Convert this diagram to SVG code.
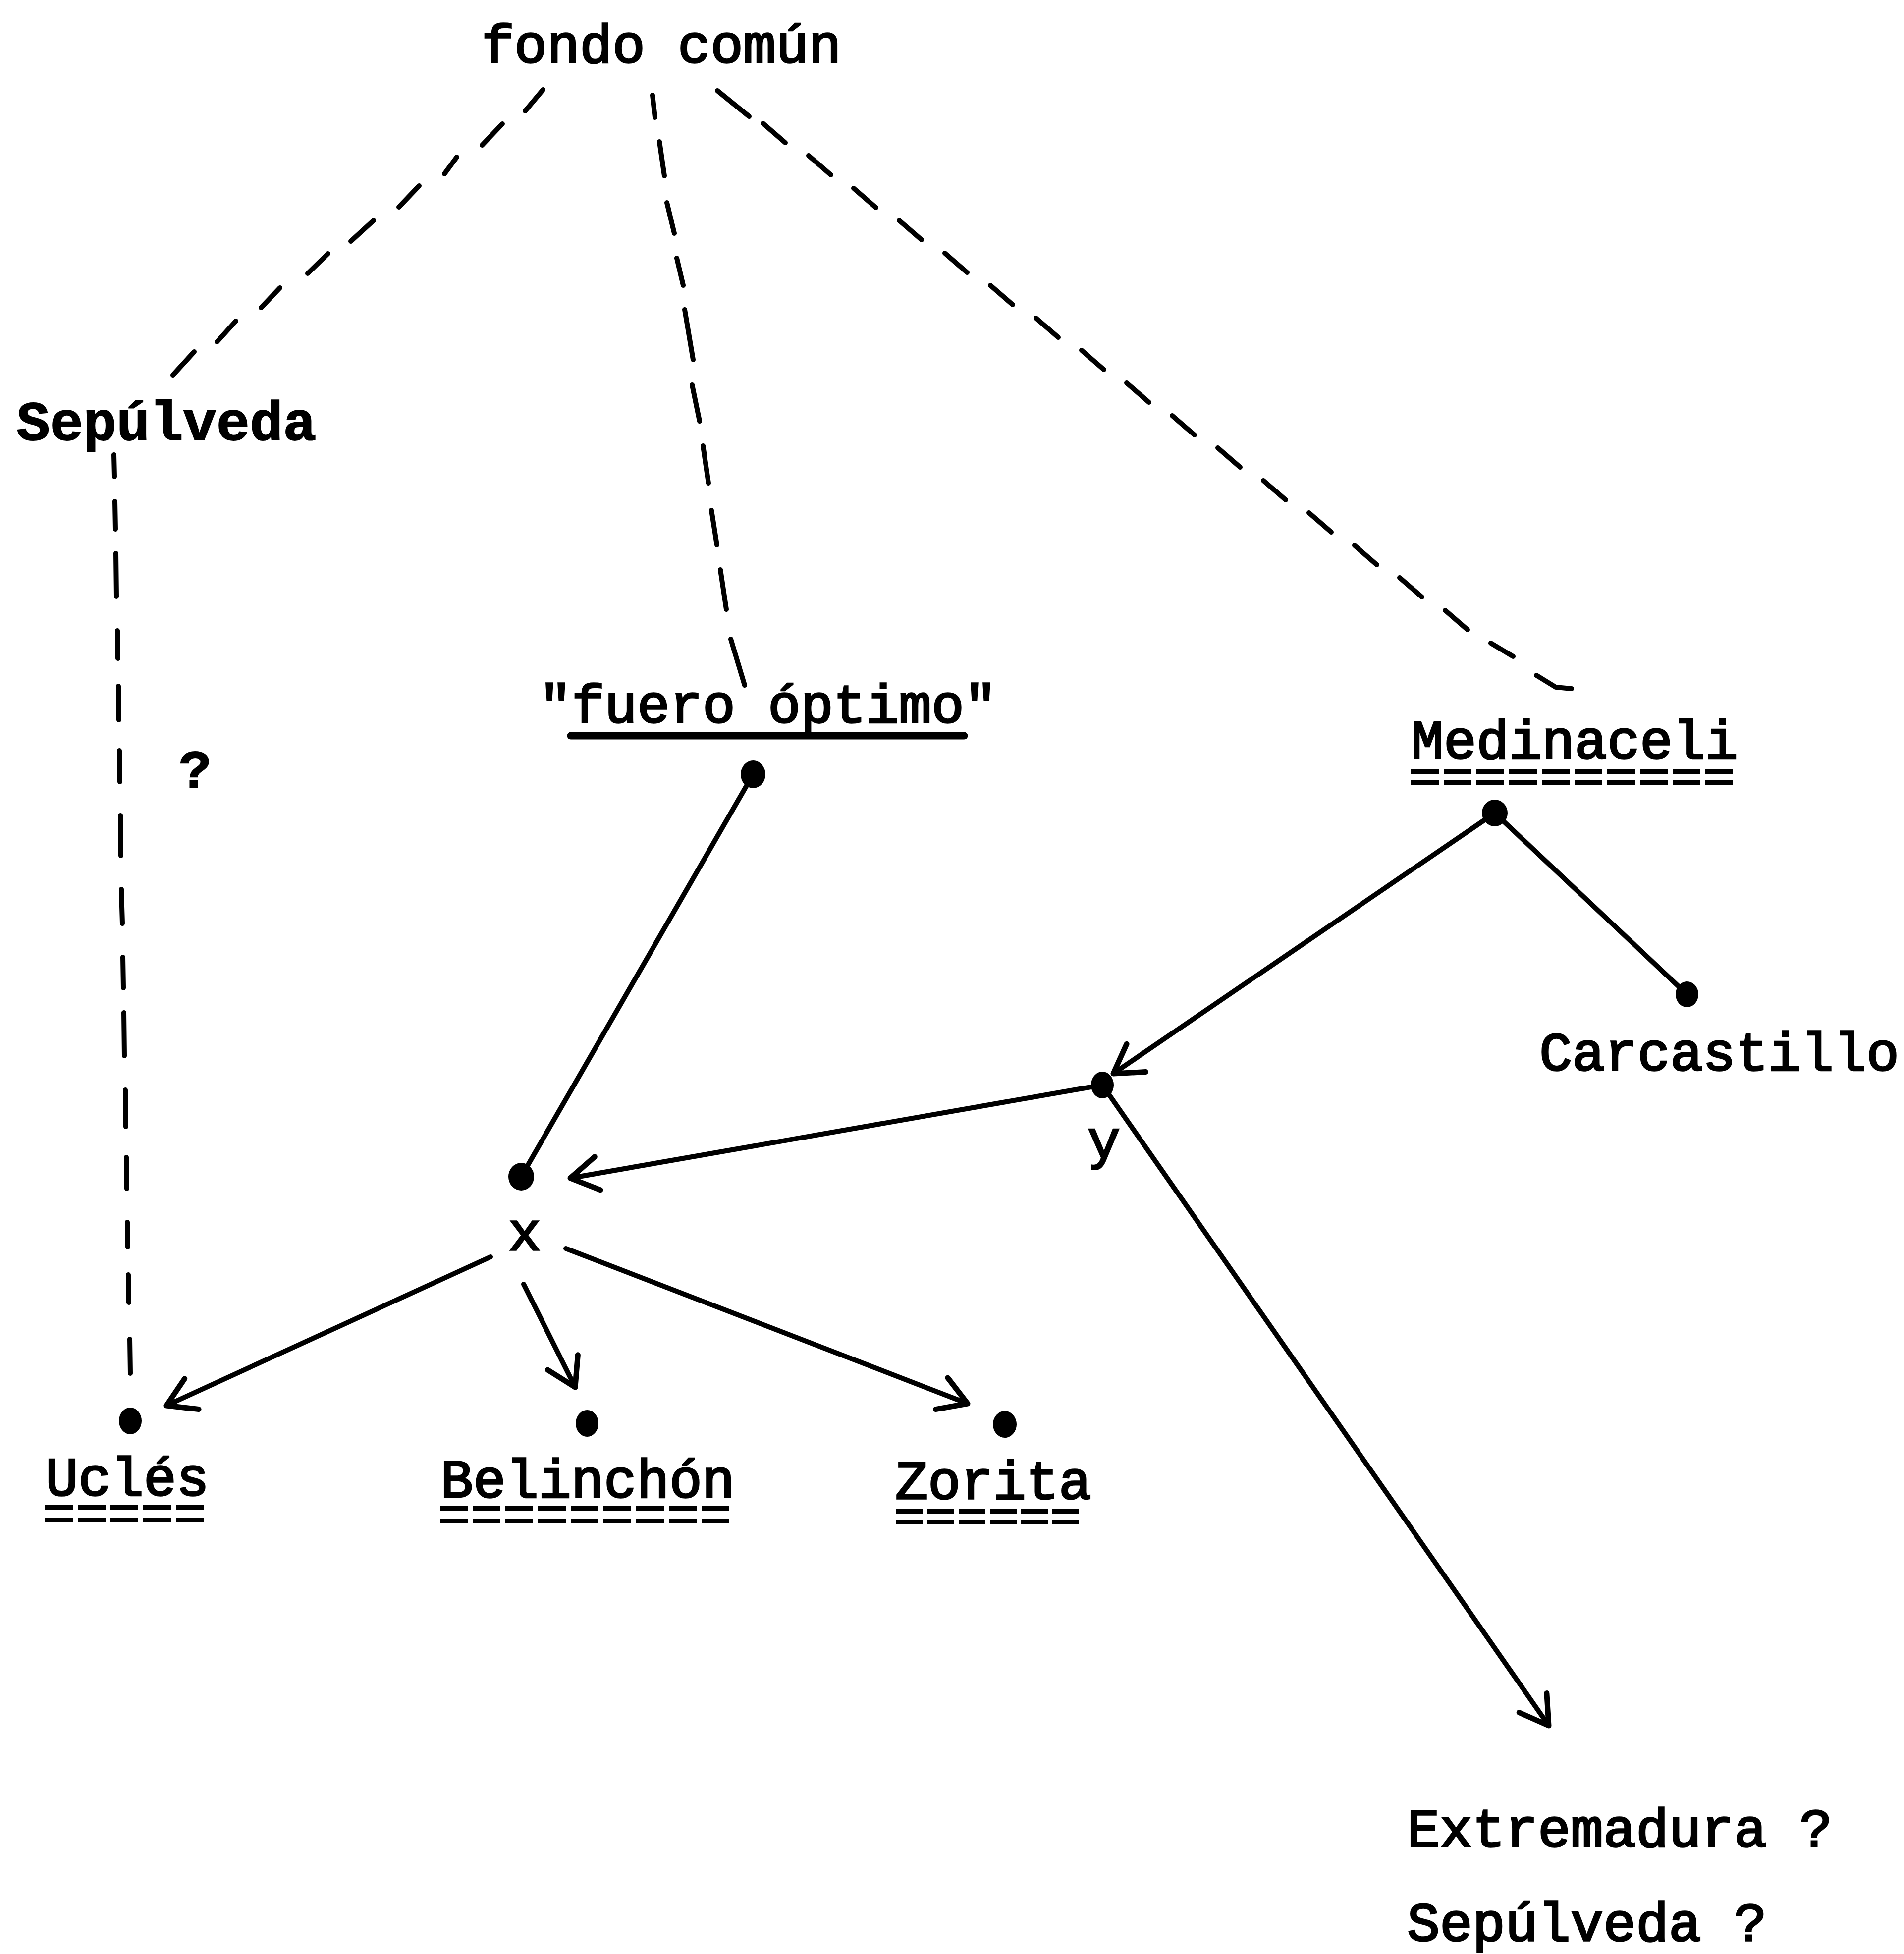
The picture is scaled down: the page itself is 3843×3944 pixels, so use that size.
<svg xmlns="http://www.w3.org/2000/svg" width="3843" height="3944" viewBox="0 0 3843 3944">
<style>
  .t { font-family: "Liberation Mono", "DejaVu Sans Mono", monospace; font-size: 110px; fill: #000; stroke: #000; stroke-width: 3.5px; }
  .b { font-weight: bold; stroke-width: 2px; }
  .m { text-anchor: middle; }
  .dot { fill: #000; }
  .dash { fill: none; stroke: #000; stroke-width: 10; stroke-linecap: round; }
  .solid { fill: none; stroke: #000; stroke-width: 10; stroke-linecap: round; }
  .arrow { marker-end: url(#arr); }
  .ul { stroke: #000; stroke-width: 15; stroke-linecap: round; }
  .dul { stroke: #000; stroke-width: 10; }
</style>
<defs>
  <marker id="arr" viewBox="-80 -50 100 100" refX="0" refY="0" markerWidth="100" markerHeight="100" markerUnits="userSpaceOnUse" orient="auto">
    <path d="M-56,-34 L0,0 L-56,34" fill="none" stroke="#000" stroke-width="11" stroke-linecap="round" stroke-linejoin="round"/>
  </marker>
</defs>
<rect width="3843" height="3944" fill="#fff"/>

<g id="connectors">
  <!-- fondo común to Sepúlveda (dashed) -->
  <path class="dash" d="M1096,181 L1060,224 M1014,250 L973,293 M922,317 L897,351 M846,375 L805,418 M754,445 L708,487 M662,512 L621,552 M565,581 L527,621 M476,648 L438,690 M392,710 L349,757"/>
  <!-- fondo común to fuero óptimo (dashed) -->
  <path class="dash" d="M1317,192 L1322,237 M1331,286 L1341,355 M1346,409 L1361,471 M1366,521 L1379,576 M1382,625 L1399,726 M1397,777 L1412,850 M1419,900 L1430,975 M1436,1030 L1447,1100 M1454,1150 L1466,1230 M1475,1290 L1503,1383"/>
  <!-- fondo común to Medinaceli (dashed) -->
  <path class="dash" d="M1448,183 L1512,235 M1540,249 L1585,288 M1632,314 L1677,353 M1723,380 L1768,419 M1815,445 L1860,484 M1907,511 L1952,550 M1999,576 L2044,615 M2091,642 L2136,681 M2183,707 L2228,746 M2274,773 L2319,812 M2366,839 L2411,878 M2458,904 L2503,943 M2550,970 L2595,1009 M2642,1035 L2687,1074 M2734,1101 L2779,1140 M2825,1166 L2870,1205 M2917,1232 L2962,1271 M3009,1298 L3054,1325 M3101,1363 L3140,1387 L3172,1390"/>
  <!-- Sepúlveda to Uclés (dashed) -->
  <path class="dash" d="M230,918 L231,962 M232,1012 L233,1068 M234,1117 L235,1204 M237,1273 L238,1329 M239,1385 L240,1453 M241,1515 L242,1578 M243,1646 L244,1727 M245,1795 L247,1864 M248,1932 L249,1994 M250,2044 L251,2131 M253,2200 L254,2274 M255,2336 L256,2399 M257,2467 L258,2517 M259,2573 L260,2629 M262,2703 L263,2772"/>
  <!-- fuero óptimo to x -->
  <line class="solid" x1="1520" y1="1563" x2="1052" y2="2375"/>
  <!-- Medinaceli to Carcastillo -->
  <line class="solid" x1="3017" y1="1641" x2="3405" y2="2007"/>
  <!-- Medinaceli to y -->
  <line class="solid arrow" x1="3017" y1="1641" x2="2247" y2="2167"/>
  <!-- y to x -->
  <line class="solid arrow" x1="2225" y1="2190" x2="1151" y2="2378"/>
  <!-- y to Extremadura / Sepúlveda -->
  <line class="solid arrow" x1="2225" y1="2190" x2="3126" y2="3483"/>
  <!-- x to Uclés -->
  <line class="solid arrow" x1="990" y1="2537" x2="336" y2="2837"/>
  <!-- x to Belinchón -->
  <line class="solid arrow" x1="1057" y1="2592" x2="1161" y2="2800"/>
  <!-- x to Zorita -->
  <line class="solid arrow" x1="1142" y1="2520" x2="1953" y2="2833"/>
</g>

<g id="fondo-comun">
  <text class="t m" x="1335" y="126">fondo común</text>
</g>

<g id="sepulveda">
  <text class="t b m" x="336" y="888" style="font-size:112px">Sepúlveda</text>
</g>

<g id="question">
  <text class="t b m" x="394" y="1590">?</text>
</g>

<g id="fuero-optimo">
  <text class="t m" x="1550" y="1458">"fuero óptimo"</text>
  <line class="ul" x1="1152" y1="1485" x2="1946" y2="1485"/>
  <ellipse class="dot" cx="1520" cy="1563" rx="25" ry="28"/>
</g>

<g id="medinaceli">
  <text class="t m" x="3178" y="1530">Medinaceli</text>
  <line class="dul" x1="2848" y1="1557" x2="3507" y2="1557" stroke-dasharray="56 10"/>
  <line class="dul" x1="2848" y1="1580" x2="3507" y2="1580" stroke-dasharray="56 10"/>
  <ellipse class="dot" cx="3017" cy="1641" rx="26" ry="27"/>
</g>

<g id="carcastillo">
  <ellipse class="dot" cx="3405" cy="2007" rx="23" ry="26"/>
  <text class="t m" x="3470" y="2160">Carcastillo</text>
</g>

<g id="y">
  <ellipse class="dot" cx="2225" cy="2190" rx="23" ry="27"/>
  <text class="t m" x="2228" y="2337">y</text>
</g>

<g id="x">
  <ellipse class="dot" cx="1052" cy="2375" rx="26" ry="28"/>
  <text class="t m" x="1059" y="2523">x</text>
</g>

<g id="ucles">
  <ellipse class="dot" cx="263" cy="2868" rx="23" ry="27"/>
  <text class="t m" x="257" y="3018">Uclés</text>
  <line class="dul" x1="91" y1="3043" x2="421" y2="3043" stroke-dasharray="56 10"/>
  <line class="dul" x1="91" y1="3068" x2="421" y2="3068" stroke-dasharray="56 10"/>
</g>

<g id="belinchon">
  <ellipse class="dot" cx="1185" cy="2873" rx="23" ry="27"/>
  <text class="t m" x="1186" y="3022">Belinchón</text>
  <line class="dul" x1="888" y1="3045" x2="1482" y2="3045" stroke-dasharray="56 10"/>
  <line class="dul" x1="888" y1="3070" x2="1482" y2="3070" stroke-dasharray="56 10"/>
</g>

<g id="zorita">
  <ellipse class="dot" cx="2028" cy="2875" rx="24" ry="27"/>
  <text class="t m" x="2005" y="3025">Zorita</text>
  <line class="dul" x1="1809" y1="3050" x2="2187" y2="3050" stroke-dasharray="54 9"/>
  <line class="dul" x1="1809" y1="3072" x2="2187" y2="3072" stroke-dasharray="54 9"/>
</g>

<g id="extremadura">
  <text class="t" x="2840" y="3727">Extremadura ?</text>
</g>

<g id="sepulveda-2">
  <text class="t" x="2840" y="3917">Sepúlveda ?</text>
</g>
</svg>
